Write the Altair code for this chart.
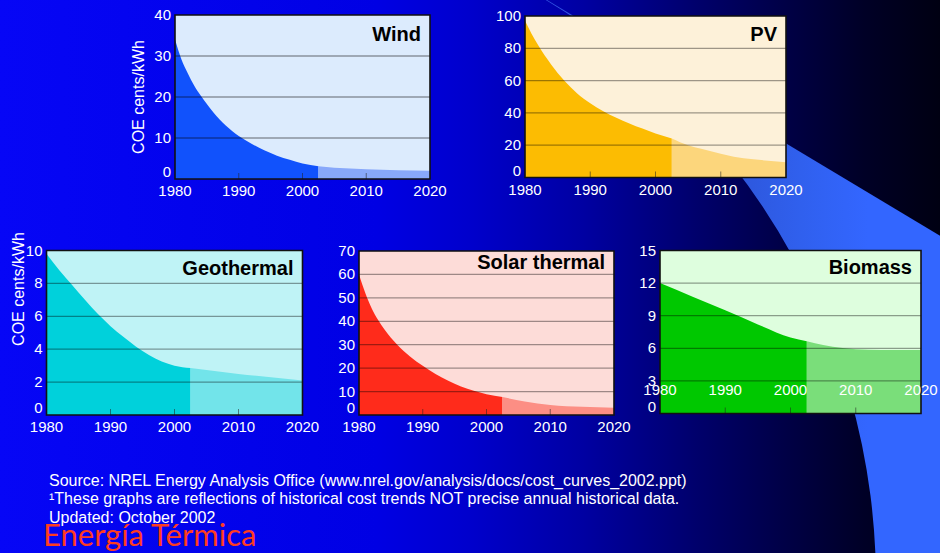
import altair as alt
import pandas as pd

W, H = 940, 553
FONT = "Liberation Sans, Arial, sans-serif"

# ---------------- data: levelized cost of energy, cents/kWh ----------------
SPLIT = 2002.5  # historical / projected boundary
YEAR_TICKS = [1980, 1990, 2000, 2010, 2020]

wind_years = [1980, 1981, 1982, 1983, 1984, 1986, 1988, 1990, 1992, 1994, 1996, 1998, 2000, 2002.5, 2005, 2010, 2015, 2020]
wind_coe = [34, 29.2, 25.8, 22.8, 20.4, 16.3, 13.0, 10.5, 8.6, 7.0, 5.7, 4.7, 3.8, 3.1, 2.75, 2.4, 2.15, 2.0]

pv_years = [1980, 1981, 1982, 1984, 1986, 1988, 1990, 1992, 1994, 1996, 1998, 2000, 2002.5, 2005, 2007, 2010, 2012, 2015, 2020]
pv_coe = [97, 89, 82, 70, 60, 52, 46, 41, 37, 33.5, 30.3, 27.3, 24.2, 20, 17.8, 14.7, 12.9, 11.3, 9.5]

geo_years = [1980, 1982, 1984, 1986, 1988, 1990, 1992, 1994, 1996, 1998, 2000, 2002.5, 2010, 2020]
geo_coe = [9.8, 8.8, 7.9, 7.0, 6.15, 5.4, 4.75, 4.15, 3.65, 3.25, 3.0, 2.85, 2.5, 2.1]

solar_years = [1980, 1981, 1982, 1983, 1984, 1986, 1988, 1990, 1992, 1994, 1996, 1998, 2000, 2002.5, 2006, 2010, 2015, 2020]
solar_coe = [60, 52, 45.5, 40.5, 36.5, 30, 25, 21, 17.5, 14.6, 12.2, 10.3, 8.9, 7.7, 5.8, 4.3, 3.5, 3.1]

bio_years = [1980, 1985, 1990, 1995, 2000, 2002.5, 2005, 2008, 2012, 2016, 2020]
bio_coe = [12, 10.75, 9.5, 8.2, 7.0, 6.65, 6.3, 6.02, 5.87, 5.85, 5.85]

notes = [
    "Source: NREL Energy Analysis Office (www.nrel.gov/analysis/docs/cost_curves_2002.ppt)",
    "\u00b9These graphs are reflections of historical cost trends NOT precise annual historical data.",
    "Updated: October 2002",
]
y_title = "COE cents/kWh"
slide_title = "Energía Térmica"

ONE = pd.DataFrame({"k": [0]})

# ---------------- slide background ----------------
BG_STOPS = [(0.0, "#0606f6"), (0.40, "#0000e4"), (0.50, "#0000cc"), (0.62, "#0000a2"),
            (0.74, "#00006c"), (0.83, "#000048"), (0.92, "#000026"), (1.0, "#000012")]


def hex2rgb(h):
    return tuple(int(h[i:i + 2], 16) for i in (1, 3, 5))


def rgb2hex(c):
    return "#%02x%02x%02x" % tuple(int(round(v)) for v in c)


def bg_color_at(px):
    f = px / W
    if f <= BG_STOPS[0][0]:
        return BG_STOPS[0][1]
    for (o0, c0), (o1, c1) in zip(BG_STOPS, BG_STOPS[1:]):
        if o0 <= f <= o1:
            t = (f - o0) / (o1 - o0)
            a, b = hex2rgb(c0), hex2rgb(c1)
            return rgb2hex([a[i] + (b[i] - a[i]) * t for i in range(3)])
    return BG_STOPS[-1][1]


def bg_gradient(x0=0, x1=W):
    """Horizontal slide gradient, expressed for a shape spanning x0..x1."""
    stops = [alt.GradientStop(offset=0, color=bg_color_at(x0))]
    for o, c in BG_STOPS:
        px = o * W
        if x0 < px < x1:
            stops.append(alt.GradientStop(offset=(px - x0) / (x1 - x0), color=c))
    stops.append(alt.GradientStop(offset=1, color=bg_color_at(min(x1, W))))
    return alt.Gradient(gradient="linear", stops=stops, x1=0, x2=1, y1=0, y2=0)


background = alt.Chart(ONE).mark_rect(fill=bg_gradient()).encode(
    x=alt.value(0), x2=alt.value(W), y=alt.value(0), y2=alt.value(H)
)

# light blue swoosh: band outside a large circle
swoosh_fill = alt.Gradient(
    gradient="linear",
    stops=[
        alt.GradientStop(offset=0, color="#3355e4"),
        alt.GradientStop(offset=0.25, color="#2c52d2"),
        alt.GradientStop(offset=0.40, color="#3060ee"),
        alt.GradientStop(offset=0.50, color="#3366ff"),
        alt.GradientStop(offset=1, color="#3366ff"),
    ],
    x1=0, x2=1, y1=0, y2=0,
)
swoosh = alt.Chart(ONE).mark_arc(fill=swoosh_fill).encode(
    x=alt.value(198), y=alt.value(582),
    theta=alt.value(0.5236), theta2=alt.value(1.75),
    radius=alt.value(1000), radius2=alt.value(678),
)

# dark wedge in the top-right corner, above the swoosh's straight edge
WEDGE_X, WEDGE_R = 547, 600
wedge = alt.Chart(ONE).mark_arc(fill=bg_gradient(WEDGE_X, WEDGE_X + WEDGE_R)).encode(
    x=alt.value(WEDGE_X), y=alt.value(0),
    theta=alt.value(1.5708), theta2=alt.value(2.1112),
    radius=alt.value(WEDGE_R),
)

LABEL_STYLE = dict(font=FONT, fontSize=15, color="white")


# ---------------- one cost-curve panel ----------------
def panel(name, years, coe, ymax, ystep, colors, xr, yr, xlabel_dy, title_dy):
    bg, dark, light = colors
    xs = alt.Scale(domain=[1980, 2020], range=xr, nice=False, zero=False)
    ys = alt.Scale(domain=[0, ymax], range=yr, nice=False, zero=False)
    yvals = list(range(0, ymax + 1, ystep))

    df = pd.DataFrame({"year": years, "coe": coe})
    hist = df[df["year"] <= SPLIT]
    proj = df[df["year"] >= SPLIT]

    def X(**k):
        return alt.X(scale=xs, axis=None, **k)

    def Y(**k):
        return alt.Y(scale=ys, axis=None, **k)

    box = dict(x=X(datum=1980), x2=alt.X2(datum=2020), y=Y(datum=0), y2=alt.Y2(datum=ymax))

    plot_bg = alt.Chart(ONE).mark_rect(fill=bg).encode(**box)
    area_hist = alt.Chart(hist).mark_area(color=dark, interpolate="monotone").encode(
        x=X(field="year", type="quantitative"), y=Y(field="coe", type="quantitative"),
    )
    area_proj = alt.Chart(proj).mark_area(color=light, interpolate="monotone").encode(
        x=X(field="year", type="quantitative"), y=Y(field="coe", type="quantitative"),
    )
    grid = alt.Chart(pd.DataFrame({"g": yvals[1:-1]})).mark_rule(
        color="black", opacity=0.38, strokeWidth=1.3
    ).encode(x=X(datum=1980), x2=alt.X2(datum=2020), y=Y(field="g", type="quantitative"))
    ticks = alt.Chart(pd.DataFrame({"t": YEAR_TICKS[1:-1]})).mark_tick(
        orient="vertical", size=6, thickness=1, color="#222", opacity=0.55, yOffset=-3
    ).encode(x=X(field="t", type="quantitative"), y=Y(datum=0))
    frame = alt.Chart(ONE).mark_rect(fillOpacity=0, stroke="#111111", strokeWidth=1.6).encode(**box)
    label = alt.Chart(ONE).mark_text(
        text=name, align="right", baseline="middle", dx=-9, dy=title_dy,
        font=FONT, fontSize=20, fontWeight="bold", color="black",
    ).encode(x=X(datum=2020), y=Y(datum=ymax))

    # tick labels, placed with the panel's own scales
    x_labels = alt.Chart(pd.DataFrame({"t": YEAR_TICKS})).mark_text(
        align="center", baseline="top", dy=xlabel_dy, **LABEL_STYLE
    ).encode(
        x=X(field="t", type="quantitative"), y=Y(datum=0),
        text=alt.Text("t:Q", format="d"),
    )
    y_labels = alt.Chart(pd.DataFrame({"v": yvals[1:]})).mark_text(
        align="right", baseline="middle", dx=-4, **LABEL_STYLE
    ).encode(
        x=X(datum=1980), y=Y(field="v", type="quantitative"),
        text=alt.Text("v:Q", format="d"),
    )
    y_zero = alt.Chart(pd.DataFrame({"v": yvals[:1]})).mark_text(
        align="right", baseline="bottom", dx=-4, dy=1, **LABEL_STYLE
    ).encode(
        x=X(datum=1980), y=Y(field="v", type="quantitative"),
        text=alt.Text("v:Q", format="d"),
    )

    return alt.layer(plot_bg, area_hist, area_proj, grid, ticks, frame, label,
                     x_labels, y_labels, y_zero)


wind = panel("Wind", wind_years, wind_coe, 40, 10,
             ("#dcebfd", "#1152fc", "#88a8fa"),
             [175, 430], [179, 15], 5, 20)
pv = panel("PV", pv_years, pv_coe, 100, 20,
           ("#fdf1d9", "#fcbc02", "#fcd67c"),
           [525, 786], [177.5, 16], 5, 19)
geo = panel("Geothermal", geo_years, geo_coe, 10, 2,
            ("#bff3f6", "#00d1db", "#72e4ea"),
            [46.5, 302.5], [415, 250.5], 5, 18)
solar = panel("Solar thermal", solar_years, solar_coe, 70, 10,
              ("#fddcd8", "#ff2b1b", "#fc8e84"),
              [359, 614], [415, 251], 5, 12)
bio = panel("Biomass", bio_years, bio_coe, 15, 3,
            ("#defede", "#00c800", "#7ade7a"),
            [660, 921], [413.5, 250.5], -31, 17)

# rotated axis titles for the left-hand panels
y_titles = [
    alt.Chart(ONE).mark_text(
        text=y_title, angle=270, align="center", baseline="middle",
        font=FONT, fontSize=16, color="white",
    ).encode(x=alt.value(x), y=alt.value(y))
    for x, y in [(139, 97), (19, 289)]
]

# ---------------- footnotes and slide title ----------------
note_layers = [
    alt.Chart(ONE).mark_text(
        text=t, align="left", baseline="middle", font=FONT, fontSize=16, color="white"
    ).encode(x=alt.value(49), y=alt.value(y))
    for t, y in zip(notes, [481, 499, 518])
]
title_layer = alt.Chart(ONE).mark_text(
    text=slide_title, align="left", baseline="middle", font="Lato, Open Sans, sans-serif",
    fontSize=31, fontWeight=400, color="#ff3c1e",
).encode(x=alt.value(43), y=alt.value(537))

chart = (
    alt.layer(background, swoosh, wedge, wind, pv, geo, solar, bio,
              *y_titles, *note_layers, title_layer)
    .resolve_scale(x="independent", y="independent")
    .properties(width=W, height=H, padding=0, autosize="none", background="#000012")
    .configure_view(strokeWidth=0)
)

chart.save("out.html", embed_options={"renderer": "svg", "actions": False})
